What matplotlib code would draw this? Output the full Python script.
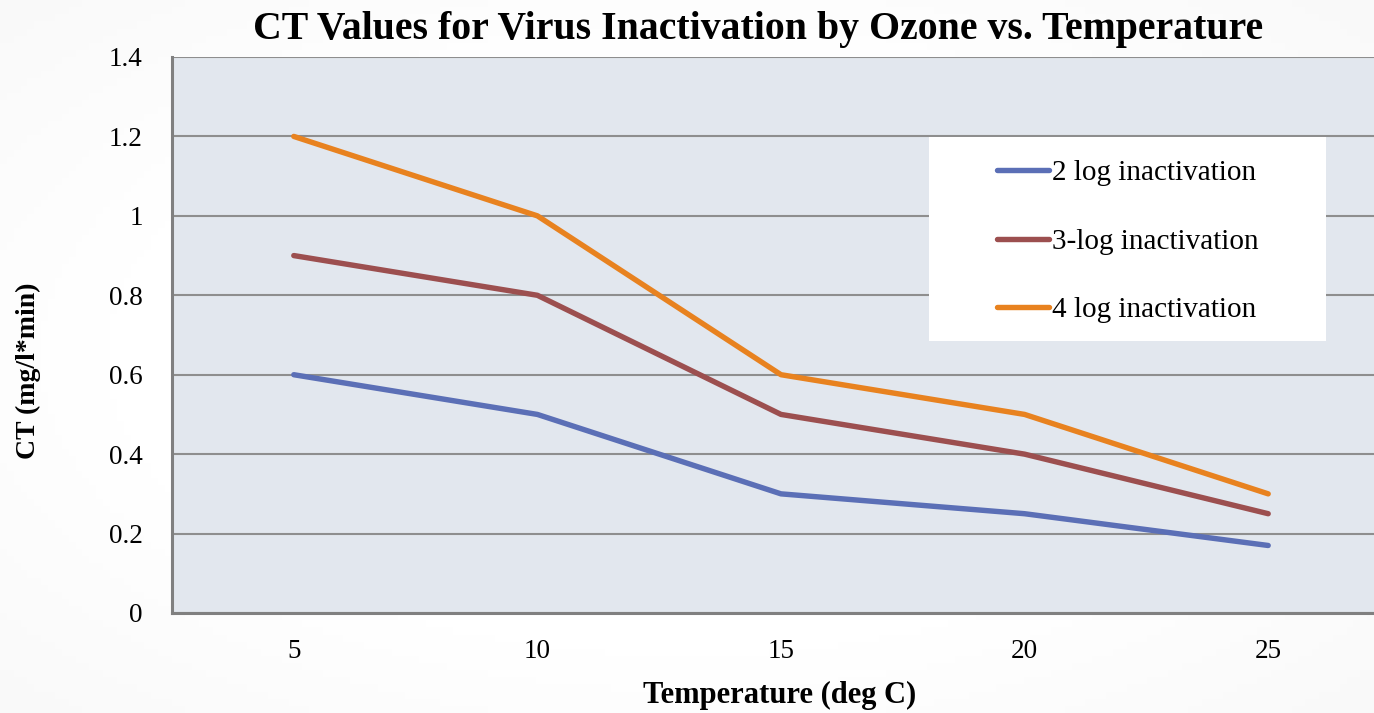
import numpy as np
import matplotlib
matplotlib.use('Agg')
import matplotlib.pyplot as plt
from matplotlib.patches import Rectangle

# data
temperatures = [5, 10, 15, 20, 25]
log2_values = [0.6, 0.5, 0.3, 0.25, 0.17]
log3_values = [0.9, 0.8, 0.5, 0.4, 0.25]
log4_values = [1.2, 1.0, 0.6, 0.5, 0.3]
series_labels = ['2 log inactivation', '3-log inactivation', '4 log inactivation']
series_colors = ['#5b6fb6', '#9c4f4f', '#e8821f']
y_ticks = [0, 0.2, 0.4, 0.6, 0.8, 1, 1.2, 1.4]
y_tick_labels = ['0', '0.2', '0.4', '0.6', '0.8', '1', '1.2', '1.4']

plt.rcParams['font.family'] = ['Liberation Serif', 'DejaVu Serif']

W, H = 1374, 713
fig = plt.figure(figsize=(W / 100, H / 100), dpi=100)

# faint slide-like background shading
bg = fig.add_axes([0, 0, 1, 1], zorder=-10)
gx, gy = np.meshgrid(np.linspace(-1, 1, 200), np.linspace(-1, 1, 100))
shade = 1 - 0.04 * np.clip(np.sqrt(gx ** 2 + gy ** 2) - 0.75, 0, None)
bg.imshow(shade, cmap='gray', vmin=0, vmax=1, aspect='auto', extent=[0, 1, 0, 1])
bg.axis('off')

left, right, top, bottom = 172, 1390, 57, 613
ax = fig.add_axes([left / W, 1 - bottom / H, (right - left) / W, (bottom - top) / H])
ax.set_facecolor('#e2e7ee')

series = [log2_values, log3_values, log4_values]
lines = []
for vals, lab, col in zip(series, series_labels, series_colors):
    ln, = ax.plot(temperatures, vals, color=col, lw=3.9, label=lab,
                  solid_capstyle='round', solid_joinstyle='round', zorder=3)
    lines.append(ln)

ax.set_xlim(2.5, 27.5)
ax.set_ylim(0, 1.4)
ax.set_xticks(temperatures)
ax.set_xticklabels([str(t) for t in temperatures])
ax.set_yticks(y_ticks)
ax.set_yticklabels(y_tick_labels)
ax.tick_params(length=0, labelsize=19.5, colors='black')
ax.tick_params(axis='y', pad=21)
ax.tick_params(axis='x', pad=19)
ax.yaxis.grid(True, color='#8e8e8e', lw=1.5, zorder=1)
ax.set_axisbelow(True)
for s in ['top', 'right']:
    ax.spines[s].set_visible(False)
for s in ['left', 'bottom']:
    ax.spines[s].set_color('#808080')
    ax.spines[s].set_linewidth(2.2)

fig.text(758 / W, 1 - 29 / H, 'CT Values for Virus Inactivation by Ozone vs. Temperature',
         ha='center', va='center', fontsize=28.6, fontweight='bold')
fig.text(780 / W, 1 - 695 / H, 'Temperature (deg C)', ha='center', va='center',
         fontsize=22, fontweight='bold')
fig.text(28 / W, 1 - 371 / H, 'CT (mg/l*min)', ha='center', va='center',
         rotation=90, fontsize=20, fontweight='bold')

# legend box
fig.patches.append(Rectangle((929 / W, 1 - 341 / H), (1326 - 929) / W, (341 - 137) / H,
                             transform=fig.transFigure, facecolor='white',
                             edgecolor='none', zorder=5))
leg = fig.legend(handles=lines, loc='upper left', bbox_to_anchor=(985 / W, 1 - 148 / H),
                 frameon=False, fontsize=21, handlelength=1.8, handletextpad=0.08,
                 labelspacing=1.45, borderaxespad=0)
leg.set_zorder(6)

fig.savefig('out.png', dpi=100)
